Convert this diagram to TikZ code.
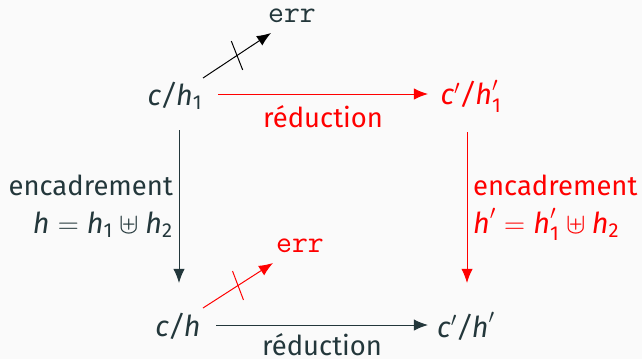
\documentclass[tikz,border=0pt]{standalone}
\usepackage{amsmath, amssymb}
\usepackage{fontspec}
\setmainfont{Fira Sans}
\usetikzlibrary{positioning, calc, arrows.meta}
\definecolor{mdark}{HTML}{23373B}
\definecolor{mbg}{HTML}{FAFAFA}
\newcommand{\mv}[1]{\text{\itshape #1}}
\newcommand{\one}{\text{1}}
\newcommand{\two}{\text{2}}
\newcommand{\mathsize}{\fontsize{20.5}{24}\selectfont}
\tikzset{
    obj node/.style={font=\mathsize, text=mdark, inner sep=2pt},
    err node/.style={font=\fontsize{22}{26}\selectfont\ttfamily, text=mdark, inner sep=1pt},
    edge label/.style={font=\fontsize{19.5}{23}\selectfont, text=mdark, inner sep=2pt},
    map arrow/.style={-{Latex[length=10pt, width=8pt]}, draw=mdark, line width=0.7pt},
    slash mark/.style={sloped, draw, minimum width=0pt, minimum height=22pt, inner sep=0pt, rotate=-12},
}
\begin{document}
\begin{tikzpicture}[x=0.025cm, y=-0.025cm]
    \fill[mbg] (0,0) rectangle (642,359);
    % objets
    \node[obj node] (h1) at (175,96) {$\mv{c}\mv{/}\mv{h}_\one$};
    \node[obj node, text=red] (h1p) at (471,96) {$\mv{c}'\mv{/}\mv{h}'_\one$};
    \node[obj node] (h) at (178,326) {$\mv{c}\mv{/}\mv{h}$};
    \node[obj node] (hp) at (466,326) {$\mv{c}'\mv{/}\mv{h}'$};
    \node[err node] (errA) at (292,16) {err};
    \node[err node, text=red] (errB) at (300,246) {err};
    % fleches
    \draw[map arrow, draw=red] ($(h1)+(43,-2)$) -- ($(h1p)+(-43,-2)$)
        node[midway, below=6pt, edge label, text=red] {réduction};
    \draw[map arrow] ($(h)+(38,-1)$) -- ($(hp)+(-38,-1)$)
        node[midway, below=4pt, edge label] {réduction};
    \draw[map arrow] ($(h1)+(4,34)$) -- ($(h)+(1,-43)$)
        node[midway, left=2pt, edge label, align=right] {encadrement\\[4pt]{\mathsize$\mv{h} = \mv{h}_\one \uplus \mv{h}_\two$}};
    \draw[map arrow, draw=red] ($(h1p)+(-4,36)$) -- ($(hp)+(1,-43)$)
        node[midway, right=2pt, edge label, align=left, text=red] {encadrement\\[4pt]{\mathsize$\mv{h}' = \mv{h}'_\one \uplus \mv{h}_\two$}};
    \draw[map arrow, draw=black] ($(h1)+(28,-18)$) -- ($(errA)+(-21,17)$)
        node[midway, slash mark] {};
    \draw[map arrow, draw=red] ($(h)+(25,-18)$) -- ($(errB)+(-27,17)$)
        node[midway, slash mark] {};
\end{tikzpicture}
\end{document}
